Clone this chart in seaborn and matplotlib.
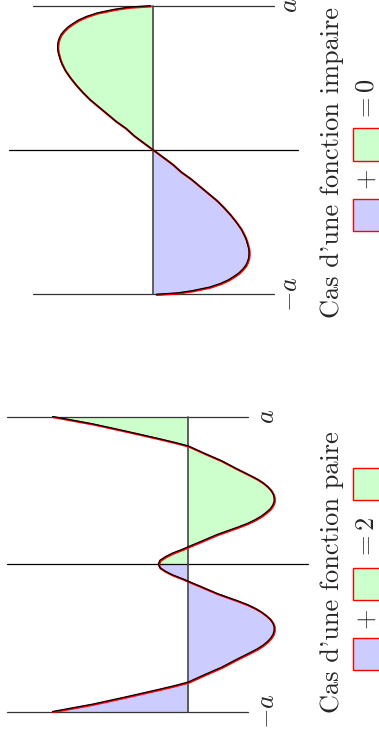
import numpy as np
import pandas as pd
import matplotlib
matplotlib.use("Agg")
import matplotlib.pyplot as plt
import matplotlib.transforms as mtransforms
from matplotlib.patches import Rectangle
import seaborn as sns

# ---------------- data (t in units of a, f in same units) ----------------
even_t = [-1.0, -0.95, -0.9, -0.85, -0.825, -0.8, -0.775, -0.75, -0.7, -0.65, -0.6,
          -0.575, -0.55, -0.525, -0.5, -0.475, -0.45, -0.425, -0.4, -0.375, -0.35,
          -0.325, -0.3, -0.275, -0.25, -0.2, -0.15, -0.125, -0.1, -0.075, -0.05, -0.025,
          0.0,
          0.025, 0.05, 0.075, 0.1, 0.125, 0.15, 0.2, 0.25, 0.275, 0.3, 0.325,
          0.35, 0.375, 0.4, 0.425, 0.45, 0.475, 0.5, 0.525, 0.55, 0.575,
          0.6, 0.65, 0.7, 0.75, 0.775, 0.8, 0.825, 0.85, 0.9, 0.95, 1.0]
even_f = [0.92, 0.648, 0.42, 0.20, 0.095, 0.0, -0.055, -0.11, -0.225, -0.32, -0.42,
          -0.468, -0.507, -0.537, -0.56, -0.575, -0.582, -0.582, -0.573, -0.556, -0.528,
          -0.495, -0.452, -0.40, -0.335, -0.195, -0.078, -0.018, 0.04, 0.105, 0.155, 0.193,
          0.203,
          0.193, 0.155, 0.105, 0.04, -0.018, -0.078, -0.195, -0.335, -0.40, -0.452, -0.495,
          -0.528, -0.556, -0.573, -0.582, -0.582, -0.575, -0.56, -0.537, -0.507, -0.468,
          -0.42, -0.32, -0.225, -0.11, -0.055, 0.0, 0.095, 0.20, 0.42, 0.648, 0.92]

odd_t = [-1.0, -0.99, -0.975, -0.95, -0.925, -0.9, -0.875, -0.85, -0.825, -0.8,
         -0.775, -0.75, -0.725, -0.7, -0.675, -0.65, -0.625, -0.6,
         -0.55, -0.5, -0.45, -0.4, -0.35, -0.3, -0.25, -0.2, -0.15, -0.1, -0.05, 0.0,
         0.05, 0.1, 0.15, 0.2, 0.25, 0.3, 0.35, 0.4, 0.45, 0.5, 0.55,
         0.6, 0.625, 0.65, 0.675, 0.7, 0.725, 0.75, 0.775, 0.8, 0.825,
         0.85, 0.875, 0.9, 0.925, 0.95, 0.975, 0.99, 1.0]
odd_f = [-0.02, -0.17, -0.27, -0.39, -0.465, -0.52, -0.56, -0.595, -0.62, -0.64,
         -0.652, -0.66, -0.663, -0.663, -0.659, -0.652, -0.645, -0.635,
         -0.61, -0.575, -0.535, -0.49, -0.44, -0.38, -0.32, -0.26, -0.19, -0.135, -0.068, 0.0,
         0.068, 0.135, 0.19, 0.26, 0.32, 0.38, 0.44, 0.49, 0.535, 0.575, 0.61,
         0.635, 0.645, 0.652, 0.659, 0.663, 0.663, 0.66, 0.652, 0.64, 0.62,
         0.595, 0.56, 0.52, 0.465, 0.39, 0.27, 0.17, 0.02]

captions = ["Cas d'une fonction paire", "Cas d'une fonction impaire"]
sums = ["$= 2$", "$= 0$"]
bound_labels = ["$-a$", "$a$"]

BLUE = "#ccccff"
GREEN = "#ccffcc"
RED = "#ff0000"
LINE = "#333333"

sns.set_style("white")
plt.rcParams["mathtext.fontset"] = "cm"
plt.rcParams["font.family"] = ["cmr10", "DejaVu Serif"]
plt.rcParams["axes.formatter.use_mathtext"] = True

W, H = 379, 736
fig = plt.figure(figsize=(W / 100, H / 100), dpi=100)


def make_axes(y_top, y_bot, x0_px, tc_px, scale):
    ax = fig.add_axes([0, (H - y_bot) / H, 1, (y_bot - y_top) / H])
    ax.set_xlim(x0_px / scale, (x0_px - W) / scale)
    ax.set_ylim((tc_px - y_bot) / scale, (tc_px - y_top) / scale)
    ax.axis("off")
    return ax


def draw_panel(ax, t, f, ends_len, mid_len, lab_f, fs=19):
    t = np.asarray(t)
    f = np.asarray(f)
    df = pd.DataFrame({"t": t, "f": f})
    neg = t <= 0
    pos = t >= 0
    ax.fill_betweenx(t[neg], 0, f[neg], color=BLUE, lw=0, zorder=1)
    ax.fill_betweenx(t[pos], 0, f[pos], color=GREEN, lw=0, zorder=1)
    for tv in (-1, 1):
        ax.plot([ends_len[0], ends_len[1]], [tv, tv], color=LINE, lw=0.9, zorder=2)
    ax.plot([mid_len[0], mid_len[1]], [0, 0], color="black", lw=0.9, zorder=2)
    ax.plot([0, 0], [-1, 1], color="#444444", lw=1.2, zorder=2)
    off = mtransforms.offset_copy(ax.transData, fig=fig, x=0.7, y=-0.7, units="dots")
    sns.lineplot(data=df, x="f", y="t", orient="y", sort=False, estimator=None,
                 color=RED, lw=1.5, ax=ax, zorder=3, transform=off)
    sns.lineplot(data=df, x="f", y="t", orient="y", sort=False, estimator=None,
                 color="black", lw=0.9, ax=ax, zorder=4)
    for tv, lab in zip((-1, 1), bound_labels):
        ax.text(lab_f, tv, lab, rotation=90, ha="center", va="center",
                fontsize=fs, zorder=5)


# ---- odd panel (top) ----
ax_odd = make_axes(0, 370, 153.3, 150.0, 144.3)
draw_panel(ax_odd, odd_t, odd_f, (0.834, -0.836), (0.998, -1.0), (153.3 - 290) / 144.3)

# ---- even panel (bottom) ----
ax_even = make_axes(380, 736, 188.3, 564.0, 147.5)
draw_panel(ax_even, even_t, even_f, (1.229, -0.405), (1.229, -0.812), (188.3 - 267) / 147.5)


def fx(x):
    return x / W


def fy(y):
    return (H - y) / H


def square(x, y0, y1, color):
    fig.patches.append(Rectangle((fx(x), fy(y1)), 32 / W, (y1 - y0) / H,
                                 transform=fig.transFigure, facecolor=color,
                                 edgecolor=RED, lw=1.0, zorder=5))


fig.text(fx(332), fy(572), captions[0], rotation=90, ha="center", va="center", fontsize=19)
fig.text(fx(332), fy(162), captions[1], rotation=90, ha="center", va="center", fontsize=19)

square(353, 638, 670, BLUE)
fig.text(fx(367), fy(620), "$+$", rotation=90, ha="center", va="center", fontsize=19)
square(353, 568, 600, GREEN)
fig.text(fx(367), fy(538), sums[0], rotation=90, ha="center", va="center", fontsize=19)
square(353, 468, 500, GREEN)

square(353, 199, 231, BLUE)
fig.text(fx(367), fy(180), "$+$", rotation=90, ha="center", va="center", fontsize=19)
square(353, 128, 161, GREEN)
fig.text(fx(367), fy(100), sums[1], rotation=90, ha="center", va="center", fontsize=19)

fig.savefig("out.png", dpi=100)
